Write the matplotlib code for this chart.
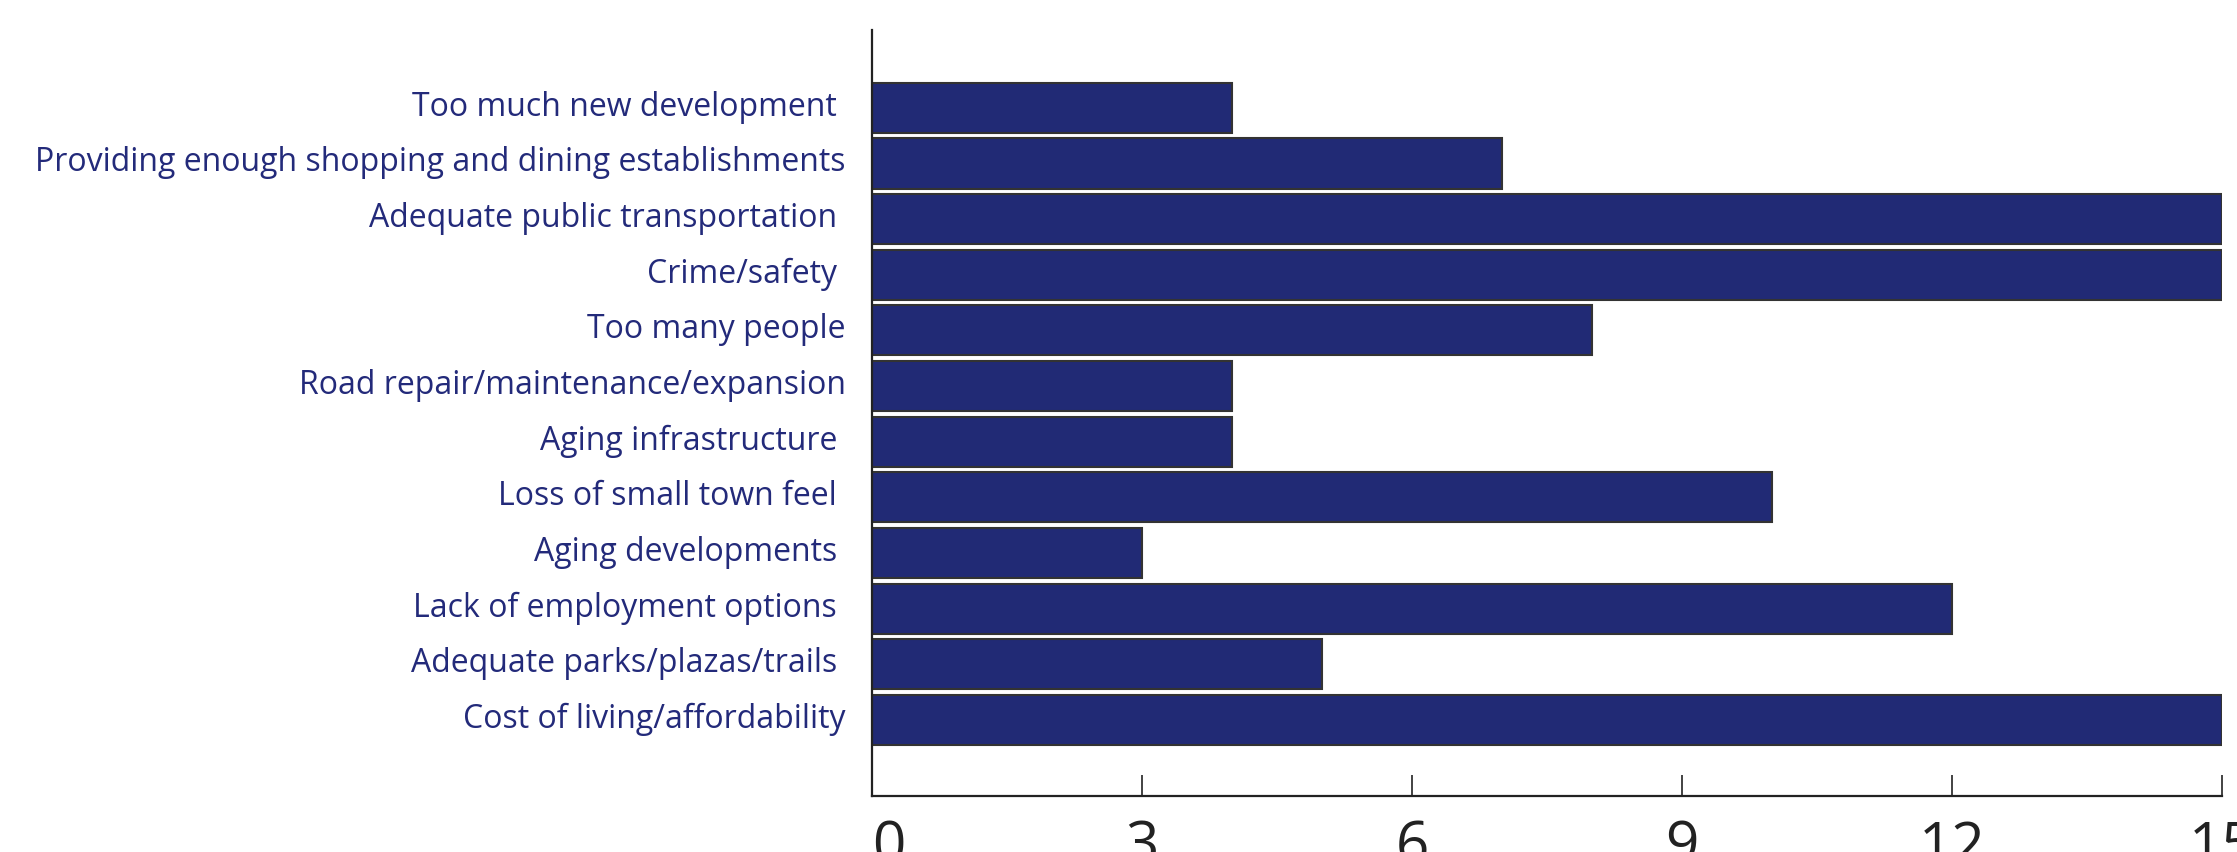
import matplotlib.pyplot as plt
import numpy as np

categories = [
    "Too much new development ",
    "Providing enough shopping and dining establishments",
    "Adequate public transportation ",
    "Crime/safety ",
    "Too many people",
    "Road repair/maintenance/expansion",
    "Aging infrastructure ",
    "Loss of small town feel ",
    "Aging developments ",
    "Lack of employment options ",
    "Adequate parks/plazas/trails ",
    "Cost of living/affordability",
]
counts = [4, 7, 15, 15, 8, 4, 4, 10, 3, 12, 5, 15]
xticks = [0, 3, 6, 9, 12, 15]

navy = "#212a75"
text_col = "#232a7a"

fig = plt.figure(figsize=(22.37, 8.53), dpi=100)
ax = fig.add_axes([872 / 2237, 56 / 853, 1350 / 2237, 766 / 853])

ypos = np.arange(len(categories))[::-1]
ax.barh(ypos, counts, height=0.9, color=navy, edgecolor="#333333", linewidth=1.5)

ax.set_xlim(0, 15)
ax.set_ylim(-1.37, len(categories) - 1 + 1.40)
ax.set_xticks(xticks)
ax.set_xticklabels([str(t) for t in xticks],
                   family=["Liberation Sans Narrow", "DejaVu Sans Condensed", "Open Sans"],
                   fontsize=42, color="#222222")
ax.get_xticklabels()[0].set_horizontalalignment("left")

# labels sit a little above the bar centres in the original (y ticks are hidden)
ax.set_yticks(ypos + 0.10)
ax.set_yticklabels(categories, family="Open Sans", fontsize=23, color=text_col)

ax.tick_params(axis="x", direction="in", length=15, width=1.2, color="#222222", pad=16)
ax.tick_params(axis="y", length=0, pad=19)

for side in ["top", "right"]:
    ax.spines[side].set_visible(False)
for side in ["left", "bottom"]:
    ax.spines[side].set_linewidth(1.6)
    ax.spines[side].set_color("#222222")

plt.savefig("out.png", dpi=100)
